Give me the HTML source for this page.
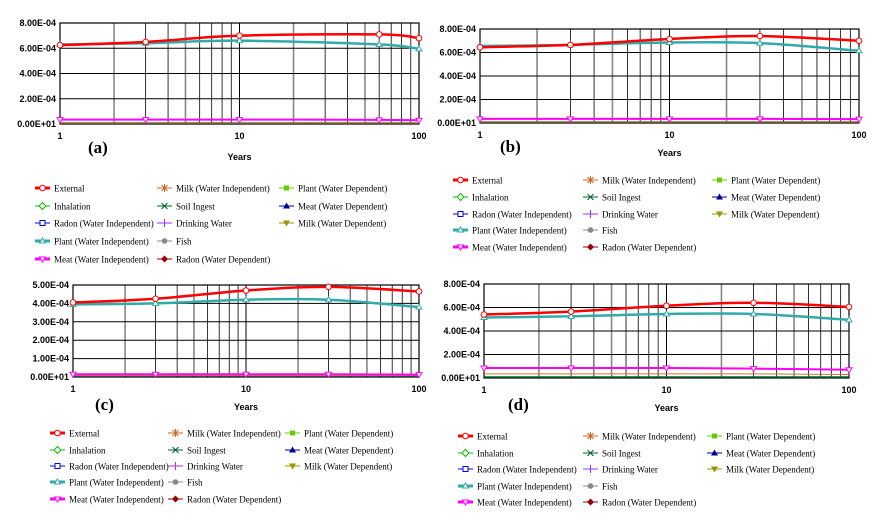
<!DOCTYPE html>
<html><head><meta charset="utf-8">
<style>
body{margin:0;background:#fff;width:883px;height:518px;overflow:hidden;}
svg{position:absolute;left:0;top:0;}
.tick{font-family:"Liberation Sans",sans-serif;font-weight:bold;font-size:9px;fill:#000;}
.leg{font-family:"Liberation Serif",serif;font-size:9px;fill:#000;}
.pl{font-family:"Liberation Serif",serif;font-weight:bold;font-size:17px;fill:#000;}
</style></head>
<body>
<svg id="fig" width="883" height="518" viewBox="0 0 883 518"></svg>
<script>
// ---- data ----
const xsA = [1,3,10,60,100];
const xsB = [1,3,10,30,100];
const xsC = [1,3,10,30,100];
const xsD = [1,3,10,30,100];
const extA = [6.25e-4,6.5e-4,7.0e-4,7.1e-4,6.8e-4];
const plantA = [6.3e-4,6.4e-4,6.6e-4,6.3e-4,5.95e-4];
const meatA = [0.35e-4,0.35e-4,0.35e-4,0.33e-4,0.3e-4];
const extB = [6.45e-4,6.65e-4,7.15e-4,7.4e-4,7.0e-4];
const plantB = [6.55e-4,6.65e-4,6.85e-4,6.8e-4,6.15e-4];
const meatB = [0.35e-4,0.35e-4,0.35e-4,0.35e-4,0.33e-4];
const extC = [4.05e-4,4.25e-4,4.7e-4,4.9e-4,4.65e-4];
const plantC = [3.95e-4,4.0e-4,4.2e-4,4.2e-4,3.8e-4];
const meatC = [0.15e-4,0.15e-4,0.15e-4,0.15e-4,0.13e-4];
const extD = [5.4e-4,5.65e-4,6.15e-4,6.4e-4,6.05e-4];
const plantD = [5.15e-4,5.25e-4,5.45e-4,5.45e-4,4.95e-4];
const meatD = [0.85e-4,0.85e-4,0.85e-4,0.8e-4,0.7e-4];
const milkD = [0.35e-4,0.35e-4,0.35e-4,0.35e-4,0.3e-4];
const lowVal = [0.08e-4,0.08e-4,0.08e-4,0.08e-4,0.08e-4];
const yTicksA = ["0.00E+01","2.00E-04","4.00E-04","6.00E-04","8.00E-04"];
const yTicksC = ["0.00E+01","1.00E-04","2.00E-04","3.00E-04","4.00E-04","5.00E-04"];
const xTickLabels = ["1","10","100"];
const legendNames = ["External","Milk (Water Independent)","Plant (Water Dependent)","Inhalation","Soil Ingest","Meat (Water Dependent)","Radon (Water Independent)","Drinking Water","Milk (Water Dependent)","Plant (Water Independent)","Fish","","Meat (Water Independent)","Radon (Water Dependent)",""];
const legendColors = ["#ff0000","#cc6622","#66cc00","#00bb00","#006633","#000099","#0000ee","#9933ff","#999900","#33aaaa","#888888","","#ff00ff","#990000",""];
const legendMarks = ["oc","ast","sqf","dia","x","tri","sq","plus","dtri","tri2","cf","","dtri2","dif",""];

const NS="http://www.w3.org/2000/svg";
const svg=document.getElementById('fig');
function mk(tag,at,parent){const e=document.createElementNS(NS,tag);for(const k in at)e.setAttribute(k,at[k]);(parent||svg).appendChild(e);return e;}

function marker(g,type,x,y,c){
  let e;
  if(type==="oc"){e=mk('circle',{cx:x,cy:y,r:2.8,fill:'#fff',stroke:c,'stroke-width':1},g);}
  else if(type==="cf"){e=mk('circle',{cx:x,cy:y,r:2.8,fill:c},g);}
  else if(type==="sqf"){e=mk('rect',{x:x-2.5,y:y-2.5,width:5,height:5,fill:c},g);}
  else if(type==="sq"){e=mk('rect',{x:x-2.5,y:y-2.5,width:5,height:5,fill:'#fff',stroke:c},g);}
  else if(type==="dia"){e=mk('path',{d:`M${x} ${y-3.5}L${x+3.5} ${y}L${x} ${y+3.5}L${x-3.5} ${y}Z`,fill:'#fff',stroke:c},g);}
  else if(type==="dif"){e=mk('path',{d:`M${x} ${y-3.5}L${x+3.5} ${y}L${x} ${y+3.5}L${x-3.5} ${y}Z`,fill:c},g);}
  else if(type==="tri"){e=mk('path',{d:`M${x} ${y-3.5}L${x+3.5} ${y+2.5}L${x-3.5} ${y+2.5}Z`,fill:c},g);}
  else if(type==="tri2"){e=mk('path',{d:`M${x} ${y-3}L${x+3} ${y+2}L${x-3} ${y+2}Z`,fill:'#fff',stroke:c},g);}
  else if(type==="dtri"){e=mk('path',{d:`M${x} ${y+3.5}L${x+3.5} ${y-2.5}L${x-3.5} ${y-2.5}Z`,fill:c},g);}
  else if(type==="dtri2"){e=mk('path',{d:`M${x} ${y+3}L${x+3} ${y-2}L${x-3} ${y-2}Z`,fill:'#fff',stroke:c},g);}
  else if(type==="x"){e=mk('path',{d:`M${x-3} ${y-3}L${x+3} ${y+3}M${x+3} ${y-3}L${x-3} ${y+3}`,stroke:c},g);}
  else if(type==="plus"){e=mk('path',{d:`M${x} ${y-4}V${y+4}M${x-4} ${y}H${x+4}`,stroke:c},g);}
  else if(type==="ast"){e=mk('path',{d:`M${x} ${y-4}V${y+4}M${x-4} ${y}H${x+4}M${x-3} ${y-3}L${x+3} ${y+3}M${x+3} ${y-3}L${x-3} ${y+3}`,stroke:c},g);}
  return e;
}

function smooth(pts){
  let d=`M${pts[0][0]} ${pts[0][1]}`;
  for(let i=0;i<pts.length-1;i++){
    const p0=pts[Math.max(0,i-1)],p1=pts[i],p2=pts[i+1],p3=pts[Math.min(pts.length-1,i+2)];
    const c1=[p1[0]+(p2[0]-p0[0])/6,p1[1]+(p2[1]-p0[1])/6];
    const c2=[p2[0]-(p3[0]-p1[0])/6,p2[1]-(p3[1]-p1[1])/6];
    d+=`C${c1[0]} ${c1[1]} ${c2[0]} ${c2[1]} ${p2[0]} ${p2[1]}`;
  }
  return d;
}

function panel(cfg){
  const g=mk('g',{});
  
  
  const X=v=>cfg.x0+(Math.log10(v))/2*(cfg.x1-cfg.x0);
  const Y=v=>cfg.y1-(v/cfg.ymax)*(cfg.y1-cfg.y0);
  for(let dec=0;dec<2;dec++)for(let k=2;k<=9;k++){
    const xv=X(k*Math.pow(10,dec));
    const l=mk('line',{x1:xv,x2:xv,y1:cfg.y0,y2:cfg.y1,stroke:(k===2||k===5)?'#888':'#000','stroke-width':(k===2||k===5)?1.6:0.8},g);
    
    
  }
  [10].forEach(v=>{mk('line',{x1:X(v),x2:X(v),y1:cfg.y0,y2:cfg.y1,stroke:'#000','stroke-width':1},g);});
  cfg.yt.forEach((lab,i)=>{
    const v=i*cfg.ystep,yv=Y(v);
    mk('line',{x1:cfg.x0,x2:cfg.x1,y1:yv,y2:yv,stroke:'#000','stroke-width':1},g);
    const t=mk('text',{x:cfg.x0-4,y:yv+3,'text-anchor':'end',class:'tick'},g);t.textContent=lab;
    
    
  });
  mk('rect',{x:cfg.x0,y:cfg.y0,width:cfg.x1-cfg.x0,height:cfg.y1-cfg.y0,fill:'none',stroke:'#000','stroke-width':1.2},g);
  xTickLabels.forEach((lab,i)=>{
    const t=mk('text',{x:X(Math.pow(10,i)),y:cfg.y1+15,'text-anchor':'middle',class:'tick'},g);t.textContent=lab;
    
    
  });
  const yt=mk('text',{x:(cfg.x0+cfg.x1)/2,y:cfg.yearsY,'text-anchor':'middle',class:'tick'},g);yt.textContent='Years';
  
  
  const pl=mk('text',{x:cfg.plx,y:cfg.ply,class:'pl'},g);pl.textContent='('+cfg.id+')';
  
  
  cfg.series.forEach(s=>{
    const pts=cfg.xs.map((xv,i)=>[X(xv),Y(s.v[i])]);
    const p=mk('path',{d:smooth(pts),fill:'none',stroke:s.c,'stroke-width':s.w},g);
    
    
    if(s.m)pts.forEach(pt=>{
      const m=marker(g,s.m,pt[0],pt[1],s.c);
      
      
    });
  });
  const lg=mk('g',{},g);
  
  
  legendNames.forEach((nm,i)=>{
    if(!nm)return;
    const col=i%3,row=Math.floor(i/3);
    const lx=cfg.lcols[col],ly=cfg.lrows[row];
    const c=legendColors[i];
    const thick=(i===0||i===9||i===12);
    const eg=mk('g',{},lg);
    
    
    mk('line',{x1:lx,x2:lx+15,y1:ly,y2:ly,stroke:c,'stroke-width':thick?3:1},eg);
    marker(eg,legendMarks[i],lx+7.5,ly,c);
    const t=mk('text',{x:lx+19,y:ly+3.5,class:'leg'},eg);t.textContent=nm;
  });
}

function seriesSet(xs,ext,plant,meat,milk){
  return [
    {n:'soil',v:lowVal,c:'#006633',w:1.5},
    {n:'milk-wi',v:milk||lowVal,c:'#cc7733',w:1},
    {n:'meat-wi',v:meat,c:'#ff00ff',w:2,m:'dtri2'},
    {n:'plant-wi',v:plant,c:'#33aaaa',w:2.5,m:'tri2'},
    {n:'external',v:ext,c:'#ff0000',w:2.5,m:'oc'}
  ];
}

panel({id:'a',x0:60,x1:419,y0:23,y1:124,ymax:8e-4,ystep:2e-4,yt:yTicksA,xs:xsA,series:seriesSet(xsA,extA,plantA,meatA),
  yearsY:160,plx:88,ply:153,lcols:[35,157,279],lrows:[188,206,223,241,259]});
panel({id:'b',x0:480,x1:859,y0:29,y1:123,ymax:8e-4,ystep:2e-4,yt:yTicksA,xs:xsB,series:seriesSet(xsB,extB,plantB,meatB),
  yearsY:156,plx:500,ply:152,lcols:[453,583,712],lrows:[180,197,214,230,247]});
panel({id:'c',x0:73,x1:419,y0:285,y1:377,ymax:5e-4,ystep:1e-4,yt:yTicksC,xs:xsC,series:seriesSet(xsC,extC,plantC,meatC),
  yearsY:410,plx:95,ply:410,lcols:[50,168,285],lrows:[433,450,466,482,499]});
panel({id:'d',x0:484,x1:849,y0:284,y1:378,ymax:8e-4,ystep:2e-4,yt:yTicksA,xs:xsD,series:seriesSet(xsD,extD,plantD,meatD,milkD),
  yearsY:411,plx:508,ply:410,lcols:[458,583,707],lrows:[436,453,469,486,502]});
</script>
</body></html>
